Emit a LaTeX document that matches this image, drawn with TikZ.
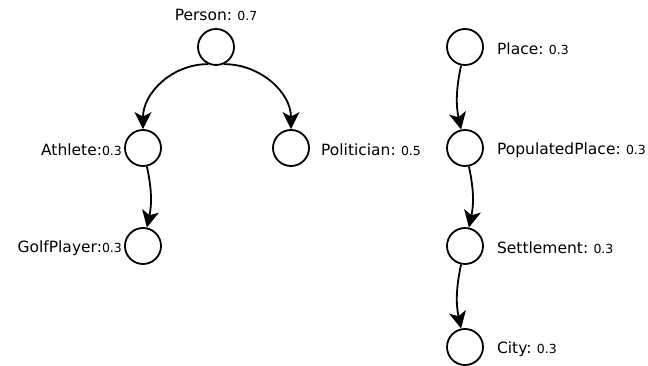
\documentclass[tikz,border=0pt]{standalone}
\usepackage{fontspec}
\setmainfont{DejaVu Sans}
\usetikzlibrary{positioning,arrows.meta}

\newcommand{\cname}[2]{\fontsize{15.5}{17}\selectfont #1\fontsize{12.5}{14}\selectfont #2}

\tikzset{
  cls/.style={draw, circle, line width=1.8pt, minimum size=36pt, inner sep=0pt},
  sub/.style={-{Stealth[length=17pt,width=17pt,inset=4.5pt]}, line width=1.8pt},
  lbl/.style={inner sep=0pt, yshift=-2pt}
}

\begin{document}
\begin{tikzpicture}[x=1pt, y=-1pt]
        \useasboundingbox (0,0) rectangle (648,366);
        % classes
        \foreach \n/\x/\y in {person/216/47, athlete/143/148, politician/291/148, golf/143/246,
                place/465/47, popplace/465/148, settle/465/246, city/465/347}{\node[cls] (\n) at (\x,\y) {};}
        % labels
        \node[inner sep=0pt, above=7pt of person] (lperson) {\cname{Person:}{ 0.7}};
        \node[lbl, left=2pt of athlete] (lathlete) {\cname{Athlete:}{0.3}};
        \node[lbl, right=11pt of politician] (lpolitician) {\cname{Politician:}{ 0.5}};
        \node[lbl, left=2pt of golf] (lgolf) {\cname{GolfPlayer:}{0.3}};
        \node[lbl, right=13pt of place] (lplace) {\cname{Place:}{ 0.3}};
        \node[lbl, right=13pt of popplace] (lpopplace) {\cname{PopulatedPlace:}{ 0.3}};
        \node[lbl, right=13pt of settle] (lsettle) {\cname{Settlement:}{ 0.3}};
        \node[lbl, right=13pt of city] (lcity) {\cname{City:}{ 0.3}};
        % subclass arrows
        \draw[sub] (person.-115) to[out=180, in=90] (athlete.north);
        \draw[sub] (person.-65) to[out=0, in=90] (politician.north);
        \draw[sub] (athlete) to[bend left=12] (golf);
        \draw[sub] (place) to[bend right=12] (popplace);
        \draw[sub] (popplace) to[bend left=12] (settle);
        \draw[sub] (settle) to[bend right=12] (city);
\end{tikzpicture}
\end{document}
